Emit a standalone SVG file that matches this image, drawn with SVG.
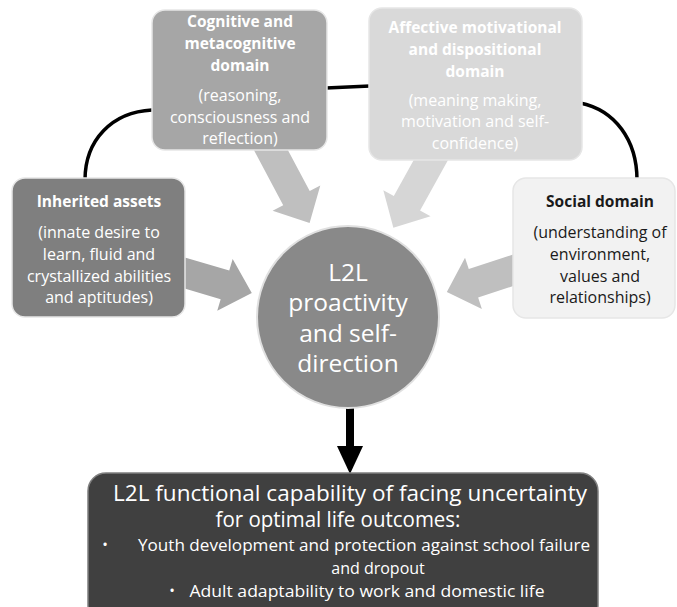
<svg xmlns="http://www.w3.org/2000/svg" width="677" height="607" viewBox="0 0 677 607">
<style>
text{font-family:"Open Sans","Noto Sans",sans-serif;text-anchor:middle}
.b{font-weight:bold;font-size:15.5px}
.box{stroke:#e6e6e6;stroke-width:1.5}
.w{fill:#ffffff}
.s{font-size:16px}
.c{font-size:24.5px}
.curve{fill:none;stroke:#000;stroke-width:3.5}
</style>
<rect width="677" height="607" fill="#ffffff"/>
<g id="connectors">
<path class="curve" d="M152,110 C112,112 85,140 85,180"/>
<path class="curve" d="M580,103 C615,110 637,140 637,180"/>
<path class="curve" d="M326,88 L370,86"/>
<polygon fill="#bfbfbf" transform="translate(265,139) rotate(62)" points="0,-15 67,-15 67,-27 95,0 67,27 67,15 0,15"/>
<polygon fill="#d6d6d6" transform="translate(437,149) rotate(119)" points="0,-15 62,-15 62,-27 90,0 62,27 62,15 0,15"/>
<polygon fill="#a6a6a6" transform="translate(178,271) rotate(16.6)" points="0,-15 49,-15 49,-27 77,0 49,27 49,15 0,15"/>
<polygon fill="#bfbfbf" transform="translate(520,268) rotate(161.8)" points="0,-15 49,-15 49,-27 77,0 49,27 49,15 0,15"/>
<rect x="346" y="408" width="8" height="40" fill="#000"/>
<polygon points="337,446 363,446 350,474" fill="#000"/>
</g>
<g id="cognitive">
<rect class="box" x="152" y="10" width="175" height="140" rx="13" fill="#a6a6a6"/>
<text class="w b" x="240" y="27">Cognitive and</text>
<text class="w b" x="240" y="49">metacognitive</text>
<text class="w b" x="240" y="71">domain</text>
<text class="w s" x="240" y="101">(reasoning,</text>
<text class="w s" x="240" y="123">consciousness  and</text>
<text class="w s" x="240" y="144">reflection)</text>
</g>
<g id="affective">
<rect class="box" x="369" y="8" width="213" height="152" rx="13" fill="#d9d9d9"/>
<text class="w b" x="475" y="33">Affective motivational</text>
<text class="w b" x="475" y="55">and dispositional</text>
<text class="w b" x="475" y="77">domain</text>
<text class="w s" x="475" y="106">(meaning making,</text>
<text class="w s" x="475" y="127">motivation and self-</text>
<text class="w s" x="475" y="149">confidence)</text>
</g>
<g id="inherited">
<rect class="box" x="12" y="178" width="173" height="139" rx="13" fill="#7f7f7f"/>
<text class="w b" x="99" y="207">Inherited assets</text>
<text class="w s" x="99" y="238">(innate desire to</text>
<text class="w s" x="99" y="260">learn, fluid and</text>
<text class="w s" x="99" y="282">crystallized abilities</text>
<text class="w s" x="99" y="303">and aptitudes)</text>
</g>
<g id="social">
<rect class="box" x="513" y="178" width="162" height="140" rx="13" fill="#f2f2f2" stroke="#d0d0d0"/>
<text class="b" x="600" y="207" fill="#1a1a1a">Social domain</text>
<text class="s" x="600" y="238" fill="#1a1a1a">(understanding of</text>
<text class="s" x="600" y="260" fill="#1a1a1a">environment,</text>
<text class="s" x="600" y="282" fill="#1a1a1a">values and</text>
<text class="s" x="600" y="303" fill="#1a1a1a">relationships)</text>
</g>
<g id="center">
<circle cx="348" cy="317" r="91" fill="#898989" stroke="#e0e0e0" stroke-width="2"/>
<text class="w c" x="348" y="281">L2L</text>
<text class="w c" x="348" y="311">proactivity</text>
<text class="w c" x="348" y="342">and self-</text>
<text class="w c" x="348" y="372">direction</text>
</g>
<g id="outcomes">
<rect x="88" y="473" width="510" height="150" rx="18" fill="#404040" stroke="#7f7f7f" stroke-width="1.5"/>
<text class="w" x="350" y="501" font-size="21" textLength="474" lengthAdjust="spacingAndGlyphs">L2L functional capability of facing uncertainty</text>
<text class="w" x="338" y="527" font-size="21" textLength="245" lengthAdjust="spacingAndGlyphs">for optimal life outcomes:</text>
<text class="w" x="105" y="550" font-size="15">•</text>
<text class="w" x="364" y="551" font-size="16" textLength="452" lengthAdjust="spacingAndGlyphs">Youth development and protection against school failure</text>
<text class="w" x="378" y="574" font-size="16">and dropout</text>
<text class="w" x="172" y="596" font-size="15">•</text>
<text class="w" x="367" y="597" font-size="16" textLength="355" lengthAdjust="spacingAndGlyphs">Adult adaptability to work and domestic life</text>
</g>
</svg>
